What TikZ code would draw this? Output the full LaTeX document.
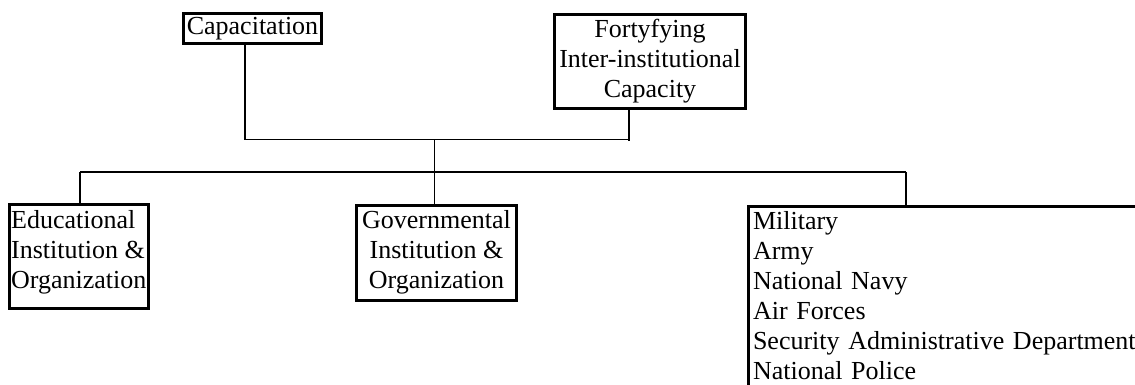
\documentclass[tikz,border=0pt]{standalone}
\usepackage{fontspec}
\setmainfont{Liberation Serif}
\newcommand{\pxu}{0.75pt}
\tikzset{
  orgbox/.style={draw, line width=2.25pt, inner sep=0pt,
    font=\fontsize{19.5}{22.5}\selectfont},
  link/.style={line width=1pt},
}
\begin{document}
\begin{tikzpicture}[x=0.75pt, y=-0.75pt]
\useasboundingbox (0,0) rectangle (1135,385);
\clip (0,0) rectangle (1135,385);

% top level
\node[orgbox, minimum width={138*\pxu}, minimum height={30*\pxu}] (cap) at (252.5,28.5) {Capacitation};
\node[orgbox, align=center, minimum width={191*\pxu}, minimum height={94*\pxu}] (fort) at (650,61.5)
  {Fortyfying\\Inter-institutional\\Capacity};

% second level
\node[orgbox, align=left, minimum width={139.5*\pxu}, minimum height={104*\pxu}, text depth={13.6*\pxu}] (edu) at (78.75,256.5)
  {Educational\\Institution \&\\Organization};
\node[orgbox, align=center, minimum width={160*\pxu}, minimum height={95*\pxu}] (gov) at (436.5,252.5)
  {Governmental\\Institution \&\\Organization};
% the list box runs past the right and bottom edges of the page
\node[orgbox, anchor=north west, align=left, text width={400*\pxu}, inner xsep={5*\pxu}, inner ysep={5*\pxu}, text depth={190*\pxu}] (mil) at (746.5,205)
  {Military\\Army\\National Navy\\Air Forces\\Security Administrative Department\\National Police};

% junction points
\coordinate (capjoin) at (245,139.5);
\coordinate (fortjoin) at (629,139.5);
\coordinate (fortend) at (629,141);
\coordinate (midtop) at (434.5,139.5);
\coordinate (barleft) at (80,172);
\coordinate (barright) at (906,172);

% connectors
\draw[link] (cap.south -| capjoin) -- (capjoin) -- (fortjoin);
\draw[link] (fort.south -| fortend) -- (fortend);
\draw[link] (midtop) -- (gov.north -| midtop);
\draw[link] (barleft) -- (barright);
\draw[link] (barleft) -- (edu.north -| barleft);
\draw[link] (barright) -- (mil.north -| barright);
\end{tikzpicture}
\end{document}
